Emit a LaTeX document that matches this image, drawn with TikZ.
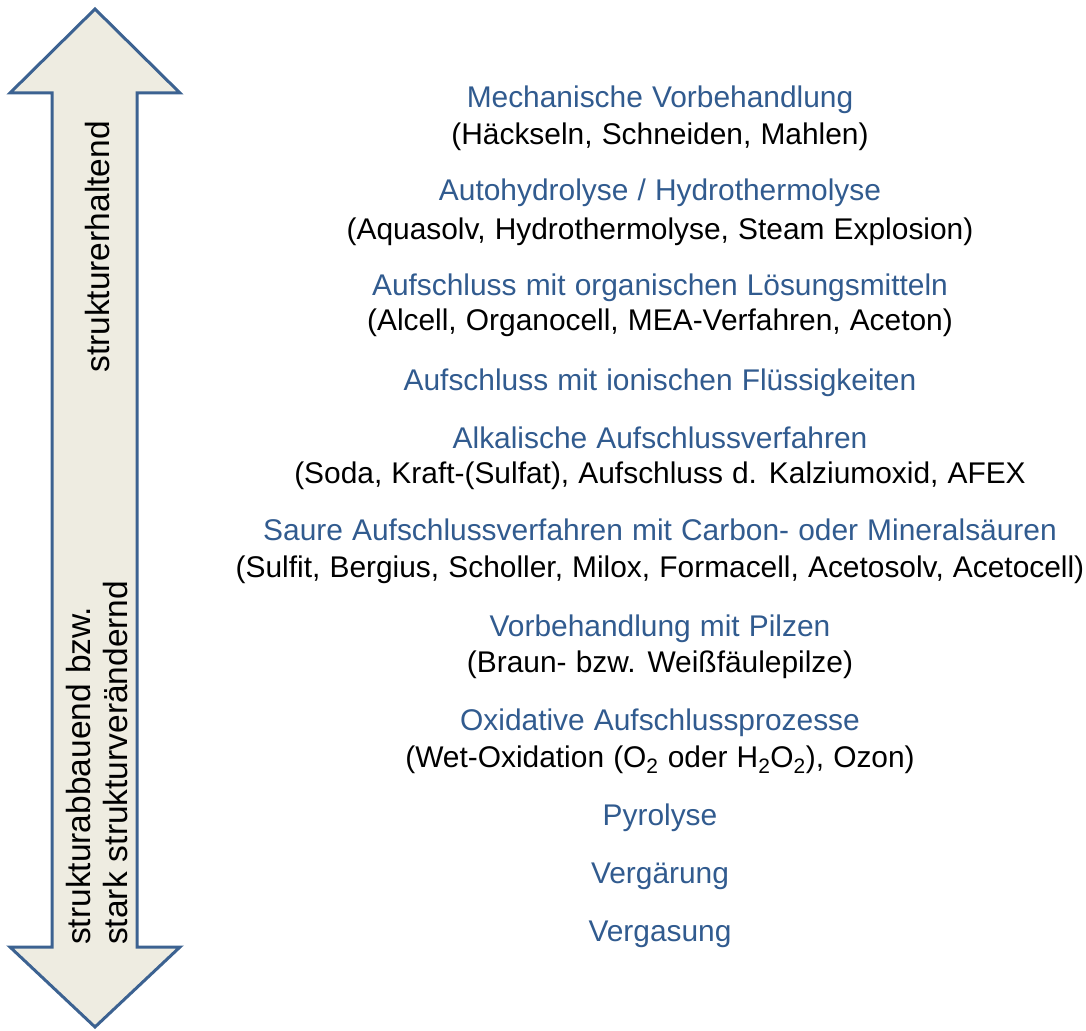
\documentclass[tikz,border=0pt]{standalone}
\usepackage{fontspec}
\setmainfont{Liberation Sans}[WordSpace=1.1]
\definecolor{arrowfill}{RGB}{238,236,225}
\definecolor{arrowline}{RGB}{60,98,145}
\definecolor{headblue}{RGB}{49,91,143}
\tikzset{
  head/.style={text=headblue, inner sep=0pt, anchor=base, font=\fontsize{29.9}{36}\selectfont},
  sub/.style={text=black, inner sep=0pt, anchor=base, font=\fontsize{29.9}{36}\selectfont},
  side/.style={text=black, inner sep=0pt, rotate=90, font=\fontsize{33.5}{37}\selectfont}
}
\begin{document}
\begin{tikzpicture}[x=1pt,y=-1pt]
\useasboundingbox (0,0) rectangle (1086,1030);
\draw[line width=3pt, draw=arrowline, fill=arrowfill, line join=miter]
  (95,9) -- (180,93) -- (137,93) -- (137,947) -- (180,947) -- (95,1027)
  -- (10,947) -- (52,947) -- (52,93) -- (10,93) -- cycle;
\node[side, anchor=center] (top) at (98,247) {strukturerhaltend};
\node[side, anchor=west, align=left] (bot) at (97,945) {strukturabbauend bzw.\\stark strukturverändernd};
\node[head] (h1) at (660,108) {Mechanische Vorbehandlung};
\node[sub] (s1) at (660,144) {(Häckseln, Schneiden, Mahlen)};
\node[head] (h2) at (660,200) {Autohydrolyse / Hydrothermolyse};
\node[sub] (s2) at (660,239) {(Aquasolv, Hydrothermolyse, Steam Explosion)};
\node[head] (h3) at (660,295) {Aufschluss mit organischen Lösungsmitteln};
\node[sub] (s3) at (660,330) {(Alcell, Organocell, MEA-Verfahren, Aceton)};
\node[head] (h4) at (660,390) {Aufschluss mit ionischen Flüssigkeiten};
\node[head] (h5) at (660,448) {Alkalische Aufschlussverfahren};
\node[sub] (s5) at (660,483) {(Soda, Kraft-(Sulfat), Aufschluss d. Kalziumoxid, AFEX};
\node[head] (h6) at (660,540) {Saure Aufschlussverfahren mit Carbon- oder Mineralsäuren};
\node[sub] (s6) at (660,577) {(Sulfit, Bergius, Scholler, Milox, Formacell, Acetosolv, Acetocell)};
\node[head] (h7) at (660,636) {Vorbehandlung mit Pilzen};
\node[sub] (s7) at (660,672) {(Braun- bzw. Weißfäulepilze)};
\node[head] (h8) at (660,730) {Oxidative Aufschlussprozesse};
\node[sub] (s8) at (660,767) {(Wet-Oxidation (O\textsubscript{2} oder H\textsubscript{2}O\textsubscript{2}), Ozon)};
\node[head] (h9) at (660,825) {Pyrolyse};
\node[head] (h10) at (660,883) {Vergärung};
\node[head] (h11) at (660,941) {Vergasung};
\end{tikzpicture}
\end{document}
